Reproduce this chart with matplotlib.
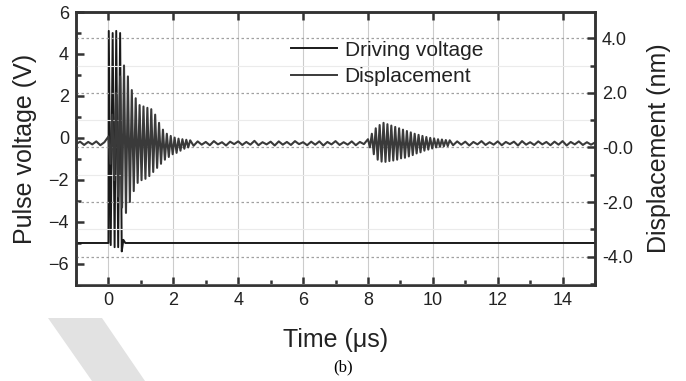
import matplotlib.pyplot as plt
from matplotlib.patches import Polygon
from matplotlib.ticker import MultipleLocator

plt.rcParams['font.family'] = ['Liberation Sans', 'DejaVu Sans']

# driving voltage pulse (V), left axis
drive_time = [-1.0, 0.00, 0.01, 0.07, 0.13, 0.19, 0.24, 0.30, 0.36, 0.41, 0.46, 0.52, 15.0]
drive_volt = [-5.0, -5.0, 5.1, -5.1, 5.0, -5.2, 5.1, -5.2, 5.0, -5.4, -4.85, -5.0, -5.0]

# displacement (nm), right axis
pre_time = [-1.0, -0.875, -0.75, -0.625, -0.5, -0.375, -0.25, -0.125]
pre_nm = [0.12, 0.21, 0.09, 0.2, 0.11, 0.22, 0.08, 0.19]

burst1_time = [0.00, 0.06, 0.12, 0.18, 0.24, 0.30, 0.36, 0.42, 0.48, 0.54,
               0.60, 0.66, 0.72, 0.78, 0.84, 0.90, 0.96, 1.02, 1.08, 1.14,
               1.20, 1.26, 1.32, 1.38, 1.44, 1.50, 1.56, 1.62, 1.68, 1.74,
               1.80, 1.86, 1.92, 1.98, 2.04, 2.10, 2.16, 2.22, 2.28, 2.34,
               2.40, 2.46, 2.52]
burst1_nm = [0.4, -0.6, 1.2, -1.2, 2.0, -1.8, 2.6, -2.2, 3.0, -2.4,
             2.6, -2.0, 2.1, -1.6, 1.8, -1.3, 1.55, -1.2, 1.5, -1.15,
             1.45, -1.05, 1.4, -0.9, 1.2, -0.75, 0.9, -0.6, 0.65, -0.45,
             0.5, -0.35, 0.42, -0.25, 0.36, -0.2, 0.32, -0.12, 0.3, -0.05,
             0.28, 0.0, 0.26]

mid_time = [2.625, 2.75, 2.875, 3.0, 3.125, 3.25, 3.375, 3.5, 3.625, 3.75,
            3.875, 4.0, 4.125, 4.25, 4.375, 4.5, 4.625, 4.75, 4.875, 5.0,
            5.125, 5.25, 5.375, 5.5, 5.625, 5.75, 5.875, 6.0, 6.125, 6.25,
            6.375, 6.5, 6.625, 6.75, 6.875, 7.0, 7.125, 7.25, 7.375, 7.5,
            7.625, 7.75, 7.875]
mid_nm = [0.06, 0.22, 0.1, 0.2, 0.08, 0.23, 0.11, 0.19, 0.07, 0.21,
          0.12, 0.22, 0.09, 0.2, 0.1, 0.24, 0.08, 0.19, 0.11, 0.21,
          0.07, 0.22, 0.1, 0.2, 0.09, 0.23, 0.12, 0.19, 0.08, 0.21,
          0.1, 0.22, 0.07, 0.2, 0.11, 0.23, 0.09, 0.19, 0.1, 0.22,
          0.08, 0.2, 0.12]

burst2_time = [8.00, 8.06, 8.12, 8.18, 8.24, 8.30, 8.36, 8.42, 8.48, 8.54,
               8.60, 8.66, 8.72, 8.78, 8.84, 8.90, 8.96, 9.02, 9.08, 9.14,
               9.20, 9.26, 9.32, 9.38, 9.44, 9.50, 9.56, 9.62, 9.68, 9.74,
               9.80, 9.86, 9.92, 9.98, 10.04, 10.10, 10.16, 10.22, 10.28, 10.34,
               10.40, 10.46, 10.52]
burst2_nm = [0.3, 0.0, 0.5, -0.25, 0.7, -0.45, 0.82, -0.52, 0.9, -0.53,
             0.85, -0.5, 0.8, -0.48, 0.75, -0.45, 0.7, -0.4, 0.65, -0.38,
             0.6, -0.33, 0.55, -0.28, 0.5, -0.22, 0.46, -0.18, 0.42, -0.12,
             0.38, -0.08, 0.35, -0.04, 0.33, 0.0, 0.3, 0.02, 0.29, 0.04,
             0.27, 0.05, 0.26]

end_time = [10.625, 10.75, 10.875, 11.0, 11.125, 11.25, 11.375, 11.5, 11.625,
            11.75, 11.875, 12.0, 12.125, 12.25, 12.375, 12.5, 12.625, 12.75,
            12.875, 13.0, 13.125, 13.25, 13.375, 13.5, 13.625, 13.75, 13.875,
            14.0, 14.125, 14.25, 14.375, 14.5, 14.625, 14.75, 14.875, 15.0]
end_nm = [0.08, 0.22, 0.1, 0.21, 0.07, 0.2, 0.11, 0.23, 0.09, 0.19,
          0.1, 0.22, 0.08, 0.2, 0.12, 0.21, 0.07, 0.23, 0.1, 0.19,
          0.09, 0.22, 0.11, 0.2, 0.08, 0.21, 0.1, 0.23, 0.07, 0.2,
          0.11, 0.22, 0.09, 0.19, 0.1, 0.18]

disp_time = pre_time + burst1_time + mid_time + burst2_time + end_time
disp_nm = pre_nm + burst1_nm + mid_nm + burst2_nm + end_nm

left_ticks = [-6, -4, -2, 0, 2, 4, 6]
right_ticks = [-4, -2, 0, 2, 4]
right_labels = ['-4.0', '-2.0', '-0.0', '2.0', '4.0']
x_ticks = [0, 2, 4, 6, 8, 10, 12, 14]

frame = '#333333'

fig = plt.figure(figsize=(6.86, 3.81), dpi=100)
ax = fig.add_axes([0.1108, 0.252, 0.7566, 0.7165])
ax2 = ax.twinx()

ax.plot(drive_time, drive_volt, color='#1a1a1a', lw=1.4, label='Driving voltage')
ax2.plot(disp_time, disp_nm, color='#3a3a3a', lw=1.5, label='Displacement')

ax.set_xlim(-1, 15)
ax.set_ylim(-7, 6)
ax2.set_ylim(-5.04, 4.96)

ax.set_xticks(x_ticks)
ax.xaxis.set_minor_locator(MultipleLocator(1))
ax.set_yticks(left_ticks)
ax.yaxis.set_minor_locator(MultipleLocator(1))
ax2.set_yticks(right_ticks)
ax2.set_yticklabels(right_labels)
ax2.yaxis.set_minor_locator(MultipleLocator(1))

ax.grid(axis='x', color='#cccccc', lw=0.8)
ax2.grid(axis='y', which='major', color='#a0a0a0', lw=0.9, ls=(0, (2, 2)))
ax2.grid(axis='y', which='minor', color='#ebebeb', lw=0.8)
ax.set_axisbelow(True)
ax2.set_axisbelow(True)

ax.tick_params(which='both', direction='in', color=frame, width=1.8,
               labelsize=13, labelcolor='#222222', pad=5)
ax.tick_params(which='major', length=6, top=True)
ax.tick_params(which='minor', length=3.5)
ax2.tick_params(which='both', direction='in', color=frame, width=1.8,
                labelsize=13, labelcolor='#222222', pad=5)
ax2.tick_params(which='major', length=6)
ax2.tick_params(which='minor', length=3.5)

for a in (ax, ax2):
    for s in a.spines.values():
        s.set_linewidth(1.8)
        s.set_color(frame)

ax.set_xlabel('Time (\u03bcs)', fontsize=18, color='#222222', labelpad=14)
ax.set_ylabel('Pulse voltage (V)', fontsize=18, color='#222222', labelpad=8)
ax2.set_ylabel('Displacement (nm)', fontsize=18, color='#222222', labelpad=10)

h1, l1 = ax.get_legend_handles_labels()
h2, l2 = ax2.get_legend_handles_labels()
leg = ax2.legend(h1 + h2, l1 + l2, loc='upper left', bbox_to_anchor=(0.415, 0.895),
                 frameon=False, fontsize=15, handlelength=2.2, handletextpad=0.35,
                 labelspacing=0.35, borderpad=0, borderaxespad=0)
for t in leg.get_texts():
    t.set_color('#222222')
for ln in leg.get_lines():
    ln.set_linewidth(1.4)

fig.text(0.5, 0.035, '(b)', ha='center', va='center', fontsize=12,
         family='Liberation Serif')

# faint watermark stripe in the lower left corner
fig.patches.append(Polygon([(48 / 686, 63 / 381), (102 / 686, 63 / 381),
                            (145 / 686, 0), (92 / 686, 0)],
                           closed=True, transform=fig.transFigure,
                           facecolor='#e2e2e2', edgecolor='none', zorder=-1))

fig.savefig('out.png', dpi=100)
